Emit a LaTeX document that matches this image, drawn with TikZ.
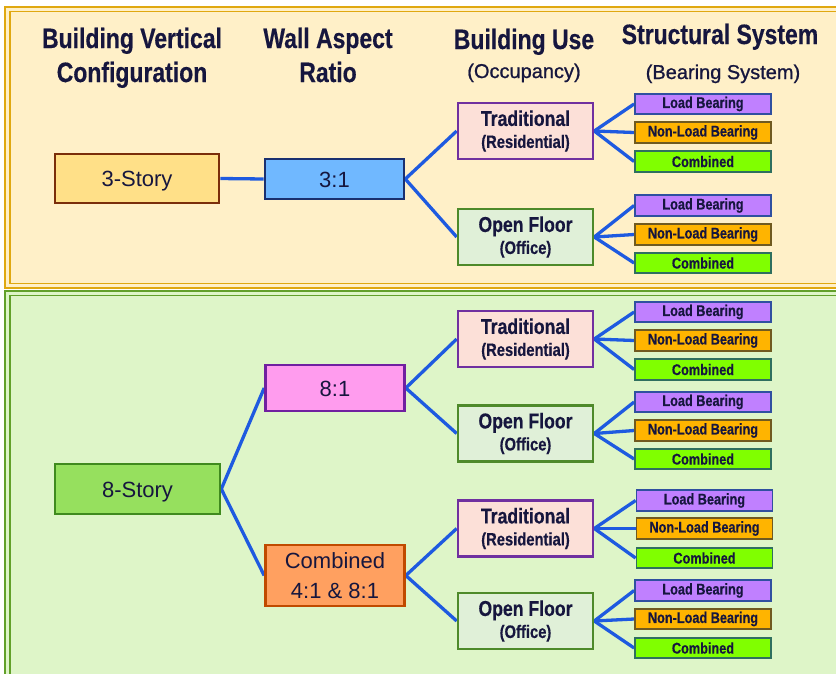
\documentclass[tikz,border=0pt]{standalone}
\usepackage{fontspec}
\usetikzlibrary{backgrounds}
\setmainfont{Liberation Sans}
\newfontfamily\cond{Liberation Sans}[FakeStretch=0.82,FakeBold=0.4]
\newfontfamily\semi{Liberation Sans}[FakeBold=0.9]
\definecolor{ink}{HTML}{16163E}
\definecolor{ypanel}{HTML}{FFF0C8}
\definecolor{yborder}{HTML}{E0A810}
\definecolor{gpanel}{HTML}{DEF5C8}
\definecolor{gborder}{HTML}{62A02A}
\definecolor{conn}{HTML}{1E5AE0}
\definecolor{stfill}{HTML}{FFE088}
\definecolor{stdraw}{HTML}{7A2E0A}
\definecolor{rafill}{HTML}{70B8FF}
\definecolor{radraw}{HTML}{1A3070}
\definecolor{trfill}{HTML}{FCE0D8}
\definecolor{trdraw}{HTML}{7030A0}
\definecolor{offill}{HTML}{E0F0D8}
\definecolor{ofdraw}{HTML}{4E8A2A}
\definecolor{esfill}{HTML}{96E05E}
\definecolor{esdraw}{HTML}{3F8A1E}
\definecolor{eifill}{HTML}{FF9CEE}
\definecolor{eidraw}{HTML}{7020A0}
\definecolor{cofill}{HTML}{FFA060}
\definecolor{codraw}{HTML}{C04A00}
\definecolor{lbfill}{HTML}{C080FF}
\definecolor{lbdraw}{HTML}{3050A0}
\definecolor{nlfill}{HTML}{FFB400}
\definecolor{nldraw}{HTML}{705A20}
\definecolor{cbfill}{HTML}{80FF00}
\definecolor{cbdraw}{HTML}{2F6F5F}
\begin{document}
\begin{tikzpicture}[x=1pt,y=-1pt,
  head/.style={text=ink,anchor=base,inner sep=0pt,font=\cond\bfseries\fontsize{28}{30}\selectfont},
  subhead/.style={text=ink,anchor=base,inner sep=0pt,font=\semi\fontsize{20}{22}\selectfont},
  bigbox/.style={draw,line width=2.6pt,text=ink,inner sep=0pt,minimum width=139pt,align=center,font=\fontsize{22}{30}\selectfont},
  usebox/.style={draw,line width=2.6pt,text=ink,inner sep=0pt,minimum width=135pt,minimum height=56pt,align=center,font=\cond\bfseries\fontsize{21.5}{22}\selectfont},
  sysbox/.style={draw,line width=1.8pt,text=ink,inner sep=0pt,minimum width=136pt,minimum height=20.5pt,font=\cond\bfseries\fontsize{15.5}{17}\selectfont},
  lb/.style={sysbox,fill=lbfill,draw=lbdraw},
  nl/.style={sysbox,fill=nlfill,draw=nldraw},
  cb/.style={sysbox,fill=cbfill,draw=cbdraw},
  trad/.style={usebox,fill=trfill,draw=trdraw},
  open/.style={usebox,fill=offill,draw=ofdraw},
  link/.style={draw=conn,line width=3.3pt}]
\useasboundingbox (0,0) rectangle (836,673);
% headers
\node[head] (h1a) at (132,48) {Building Vertical};
\node[head] (h1b) at (132,82) {Configuration};
\node[head] (h2a) at (328,48) {Wall Aspect};
\node[head] (h2b) at (328,82) {Ratio};
\node[head] (h3a) at (524,49) {Building Use};
\node[subhead] (h3b) at (524,78) {(Occupancy)};
\node[head] (h4a) at (720,44) {Structural System};
\node[subhead] (h4b) at (723,79) {(Bearing System)};
% top tree
\node[bigbox,fill=stfill,draw=stdraw,minimum width=164pt,minimum height=49pt,text height=16pt,text depth=0pt] (s3) at (137,178.5) {3-Story};
\node[bigbox,fill=rafill,draw=radraw,minimum height=40pt,text height=16pt,text depth=0pt] (r3) at (334.5,179) {3:1};
\node[trad] (t0) at (525.5,131) {Traditional\\{\fontsize{18}{22}\selectfont (Residential)}};
\node[open] (o0) at (525.5,237) {Open Floor\\{\fontsize{18}{22}\selectfont (Office)}};
\node[lb] (t0a) at (703,104) {Load Bearing};
\node[nl] (t0b) at (703,132.5) {Non-Load Bearing};
\node[cb] (t0c) at (703,161.5) {Combined};
\node[lb] (o0a) at (703,205.5) {Load Bearing};
\node[nl] (o0b) at (703,234.5) {Non-Load Bearing};
\node[cb] (o0c) at (703,263) {Combined};
% bottom tree
\node[bigbox,fill=esfill,draw=esdraw,minimum width=165pt,minimum height=50pt,text height=16pt,text depth=0pt] (s8) at (137.5,489) {8-Story};
\node[bigbox,fill=eifill,draw=eidraw,minimum height=46pt,text height=16pt,text depth=0pt] (r8) at (335,388) {8:1};
\node[bigbox,fill=cofill,draw=codraw,minimum height=61pt] (rc) at (335,575.5) {Combined\\4:1 \& 8:1};
\node[trad] (t1) at (525.5,339) {Traditional\\{\fontsize{18}{22}\selectfont (Residential)}};
\node[open] (o1) at (525.5,433.5) {Open Floor\\{\fontsize{18}{22}\selectfont (Office)}};
\node[trad] (t2) at (525.5,528.5) {Traditional\\{\fontsize{18}{22}\selectfont (Residential)}};
\node[open] (o2) at (525.5,621) {Open Floor\\{\fontsize{18}{22}\selectfont (Office)}};
\node[lb] (t1a) at (703,312) {Load Bearing};
\node[nl] (t1b) at (703,340.5) {Non-Load Bearing};
\node[cb] (t1c) at (703,369.5) {Combined};
\node[lb] (o1a) at (703,402) {Load Bearing};
\node[nl] (o1b) at (703,430.5) {Non-Load Bearing};
\node[cb] (o1c) at (703,459) {Combined};
\node[lb] (t2a) at (704.5,500.5) {Load Bearing};
\node[nl] (t2b) at (704.5,528.5) {Non-Load Bearing};
\node[cb] (t2c) at (704.5,558) {Combined};
\node[lb] (o2a) at (703,590.5) {Load Bearing};
\node[nl] (o2b) at (703,619) {Non-Load Bearing};
\node[cb] (o2c) at (703,648) {Combined};
\begin{pgfonlayer}{background}
% panels
\fill[white] (0,0) rectangle (836,673);
\fill[ypanel] (5,7) rectangle (850,288);
\draw[yborder,line width=2.2pt] (5,7) rectangle (850,288);
\draw[yborder,line width=1.4pt] (10,11.5) rectangle (845,283.5);
\fill[gpanel] (5,291) rectangle (850,690);
\draw[gborder,line width=2.2pt] (5,291) rectangle (850,690);
\draw[gborder,line width=1.4pt] (10,295.5) rectangle (845,685);
% connectors
\path[link] (s3.east) -- (r3.west);
\path[link] (r3.east) -- (t0.west);
\path[link] (r3.east) -- (o0.west);
\foreach \p in {t0,o0,t1,o1,t2,o2}{
  \path[link] (\p.east) -- (\p a.west);
  \path[link] (\p.east) -- (\p b.west);
  \path[link] (\p.east) -- (\p c.west);
}
\path[link] (s8.east) -- (r8.west);
\path[link] (s8.east) -- (rc.west);
\path[link] (r8.east) -- (t1.west);
\path[link] (r8.east) -- (o1.west);
\path[link] (rc.east) -- (t2.west);
\path[link] (rc.east) -- (o2.west);
\end{pgfonlayer}
\end{tikzpicture}
\end{document}
